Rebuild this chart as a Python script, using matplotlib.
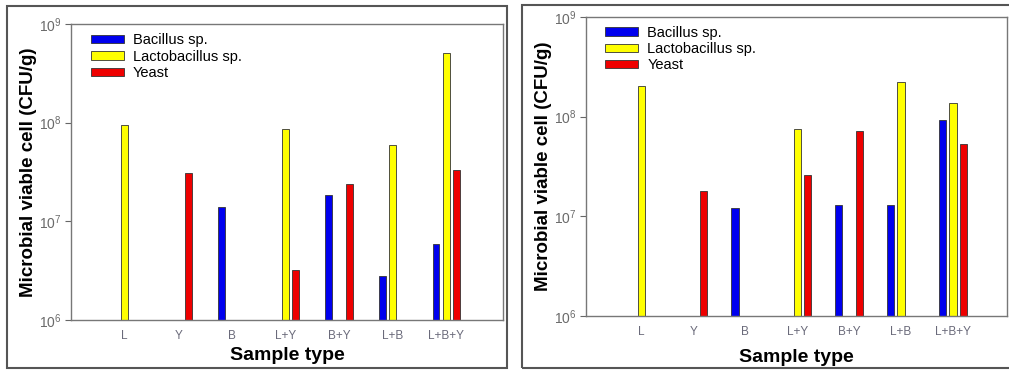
import numpy as np
import matplotlib
matplotlib.use("Agg")
import matplotlib.pyplot as plt
from matplotlib.patches import Rectangle
from matplotlib.ticker import FixedLocator, NullLocator

plt.rcParams['font.family'] = ['Liberation Sans', 'DejaVu Sans']
plt.rcParams['mathtext.fontset'] = 'custom'
plt.rcParams['mathtext.rm'] = 'Liberation Sans'
plt.rcParams['mathtext.it'] = 'Liberation Sans'

# ---------------- data ----------------
categories = ["L", "Y", "B", "L+Y", "B+Y", "L+B", "L+B+Y"]
series_names = ["Bacillus sp.", "Lactobacillus sp.", "Yeast"]
series_colors = ["#0000ee", "#ffff00", "#ee0000"]

# left panel (NaN = no bar)
left_bacillus = [np.nan, np.nan, 1.4e7, np.nan, 1.87e7, 2.8e6, 5.9e6]
left_lacto    = [9.5e7, np.nan, np.nan, 8.6e7, np.nan, 5.9e7, 5.1e8]
left_yeast    = [np.nan, 3.1e7, np.nan, 3.2e6, 2.4e7, np.nan, 3.3e7]

# right panel
right_bacillus = [np.nan, np.nan, 1.21e7, np.nan, 1.31e7, 1.31e7, 9.2e7]
right_lacto    = [2.03e8, np.nan, np.nan, 7.6e7, np.nan, 2.22e8, 1.38e8]
right_yeast    = [np.nan, 1.81e7, np.nan, 2.6e7, 7.2e7, np.nan, 5.35e7]

ytick_values = [1e6, 1e7, 1e8, 1e9]
ytick_labels = [r"$10^{6}$", r"$10^{7}$", r"$10^{8}$", r"$10^{9}$"]
xlabel_text = "Sample type"
ylabel_text = "Microbial viable cell (CFU/g)"

W, H = 1009, 370
fig = plt.figure(figsize=(W / 100, H / 100), dpi=100)
fig.patch.set_facecolor("white")

def px_axes(l, t, r, b):
    return fig.add_axes([l / W, 1 - b / H, (r - l) / W, (b - t) / H])

# panel frames
for (l, t, r, b) in [(7, 6, 507, 368), (522, 5, 1015, 368)]:
    fig.patches.append(Rectangle((l / W, 1 - b / H), (r - l) / W, (b - t) / H,
                                 transform=fig.transFigure, fill=False,
                                 edgecolor="#555555", linewidth=1.5, zorder=0))

def draw_panel(ax, data, xlim, offset, width, leg_anchor, xpad, ypad):
    x = np.arange(1, len(categories) + 1)
    offs = [-offset, 0.0, offset]
    for vals, name, col, o in zip(data, series_names, series_colors, offs):
        v = np.array(vals, dtype=float)
        m = ~np.isnan(v)
        ax.bar(x[m] + o, v[m], width=width, color=col, edgecolor="#333333",
               linewidth=0.6, log=True, label=name, zorder=2)
    ax.set_yscale("log")
    ax.set_ylim(1e6, 1e9)
    ax.set_xlim(*xlim)
    ax.yaxis.set_major_locator(FixedLocator(ytick_values))
    ax.set_yticklabels(ytick_labels)
    ax.yaxis.set_minor_locator(NullLocator())
    ax.set_xticks(x)
    ax.set_xticklabels(categories)
    ax.tick_params(axis="x", length=0, pad=7, labelsize=8.5, labelcolor="#6a6a7a")
    ax.tick_params(axis="y", length=4, width=0.8, color="#666666", pad=3,
                   labelsize=10, labelcolor="#6a6a6a", direction="out")
    for s in ax.spines.values():
        s.set_color("#777777")
        s.set_linewidth(1.0)
    ax.set_xlabel(xlabel_text, fontsize=14, fontweight="bold", labelpad=xpad)
    ax.set_ylabel(ylabel_text, fontsize=13.5, fontweight="bold", labelpad=ypad)
    ax.legend(loc="upper left", bbox_to_anchor=leg_anchor, frameon=False,
              fontsize=10.5, borderpad=0, borderaxespad=0, labelspacing=0.15,
              handlelength=2.3, handleheight=0.5, handletextpad=0.6)

axL = px_axes(71, 24, 503, 320)
draw_panel(axL, [left_bacillus, left_lacto, left_yeast], (0.0, 8.06), 0.19, 0.13,
           (0.0456, 0.968), 4, 1)

axR = px_axes(586, 17, 1007, 316)
draw_panel(axR, [right_bacillus, right_lacto, right_yeast], (-0.07, 8.04), 0.2, 0.14,
           (0.045, 0.971), 8, 1)

fig.savefig("out.png", dpi=100)
